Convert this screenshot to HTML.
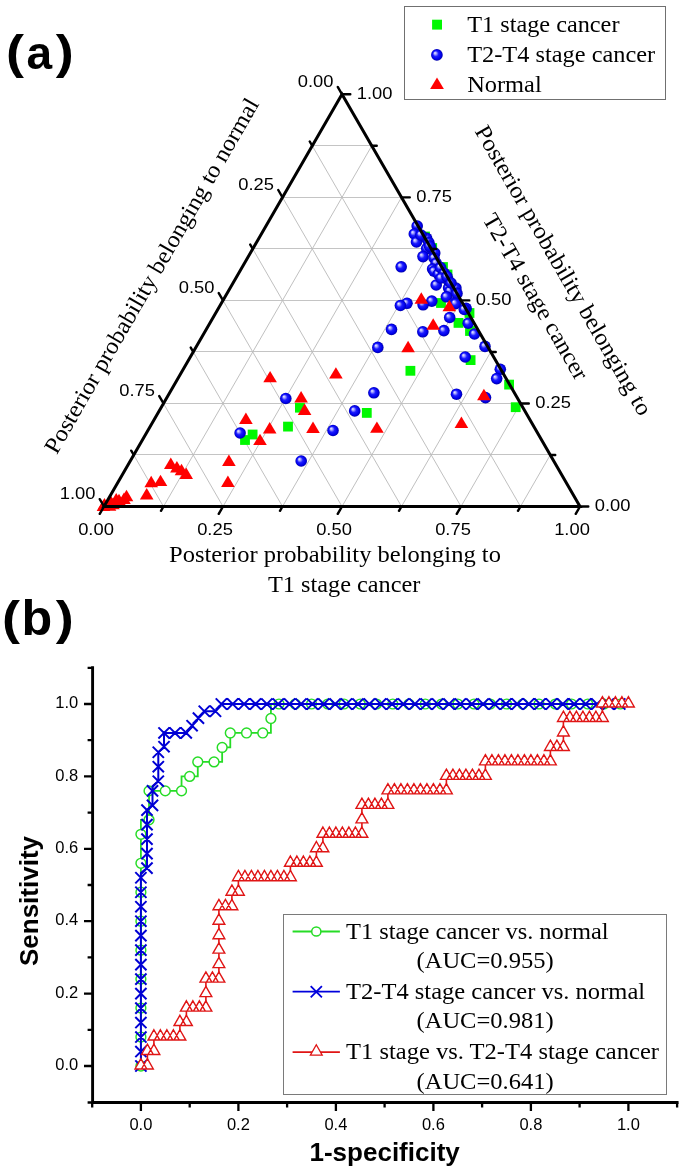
<!DOCTYPE html>
<html><head><meta charset="utf-8"><title>figure</title>
<style>html,body{margin:0;padding:0;background:#fff;} svg{display:block;will-change:transform;}</style></head>
<body><svg width="685" height="1173" viewBox="0 0 685 1173">
<defs><radialGradient id="sph" cx="0.5" cy="0.5" r="0.5" fx="0.32" fy="0.32">
<stop offset="0" stop-color="#f4f4ff"/><stop offset="0.22" stop-color="#a0a0ff"/><stop offset="0.48" stop-color="#1c1cff"/><stop offset="0.8" stop-color="#0000ea"/><stop offset="1" stop-color="#0000a8"/></radialGradient></defs>
<rect width="685" height="1173" fill="#fff"/>
<path d="M133.75 454.50L550.25 454.50 M163.50 403.50L520.50 403.50 M193.25 351.50L490.75 351.50 M223.00 300.50L461.00 300.50 M252.75 248.50L431.25 248.50 M282.50 197.50L401.50 197.50 M312.25 145.50L371.75 145.50" stroke="#c4c4c4" stroke-width="1" fill="none"/>
<path d="M163.50 506.50L371.75 145.82 M163.50 506.50L133.75 454.98 M223.00 506.50L401.50 197.35 M223.00 506.50L163.50 403.45 M282.50 506.50L431.25 248.88 M282.50 506.50L193.25 351.93 M342.00 506.50L461.00 300.40 M342.00 506.50L223.00 300.40 M401.50 506.50L490.75 351.93 M401.50 506.50L252.75 248.88 M461.00 506.50L520.50 403.45 M461.00 506.50L282.50 197.35 M520.50 506.50L550.25 454.98 M520.50 506.50L312.25 145.82" stroke="#bdbdbd" stroke-width="0.95" fill="none"/>
<text x="333.5" y="87.1" font-family="Liberation Sans, sans-serif" font-size="17" text-anchor="end" textLength="35.7" lengthAdjust="spacingAndGlyphs">0.00</text>
<text x="96.0" y="534.7" font-family="Liberation Sans, sans-serif" font-size="17" text-anchor="middle" textLength="35.7" lengthAdjust="spacingAndGlyphs">0.00</text>
<text x="594.8" y="511.1" font-family="Liberation Sans, sans-serif" font-size="17" textLength="35.7" lengthAdjust="spacingAndGlyphs">0.00</text>
<text x="274.0" y="190.2" font-family="Liberation Sans, sans-serif" font-size="17" text-anchor="end" textLength="35.7" lengthAdjust="spacingAndGlyphs">0.25</text>
<text x="215.0" y="534.7" font-family="Liberation Sans, sans-serif" font-size="17" text-anchor="middle" textLength="35.7" lengthAdjust="spacingAndGlyphs">0.25</text>
<text x="535.3" y="408.1" font-family="Liberation Sans, sans-serif" font-size="17" textLength="35.7" lengthAdjust="spacingAndGlyphs">0.25</text>
<text x="214.5" y="293.2" font-family="Liberation Sans, sans-serif" font-size="17" text-anchor="end" textLength="35.7" lengthAdjust="spacingAndGlyphs">0.50</text>
<text x="334.0" y="534.7" font-family="Liberation Sans, sans-serif" font-size="17" text-anchor="middle" textLength="35.7" lengthAdjust="spacingAndGlyphs">0.50</text>
<text x="475.8" y="305.0" font-family="Liberation Sans, sans-serif" font-size="17" textLength="35.7" lengthAdjust="spacingAndGlyphs">0.50</text>
<text x="155.0" y="396.2" font-family="Liberation Sans, sans-serif" font-size="17" text-anchor="end" textLength="35.7" lengthAdjust="spacingAndGlyphs">0.75</text>
<text x="453.0" y="534.7" font-family="Liberation Sans, sans-serif" font-size="17" text-anchor="middle" textLength="35.7" lengthAdjust="spacingAndGlyphs">0.75</text>
<text x="416.3" y="202.0" font-family="Liberation Sans, sans-serif" font-size="17" textLength="35.7" lengthAdjust="spacingAndGlyphs">0.75</text>
<text x="95.5" y="499.3" font-family="Liberation Sans, sans-serif" font-size="17" text-anchor="end" textLength="35.7" lengthAdjust="spacingAndGlyphs">1.00</text>
<text x="572.0" y="534.7" font-family="Liberation Sans, sans-serif" font-size="17" text-anchor="middle" textLength="35.7" lengthAdjust="spacingAndGlyphs">1.00</text>
<text x="356.8" y="98.9" font-family="Liberation Sans, sans-serif" font-size="17" textLength="35.7" lengthAdjust="spacingAndGlyphs">1.00</text>
<text transform="translate(56.8,455.2) rotate(-60)" font-family="Liberation Serif, serif" font-size="23.4" textLength="405.6" lengthAdjust="spacingAndGlyphs">Posterior probability belonging to normal</text>
<text transform="translate(474.3,131.0) rotate(60)" font-family="Liberation Serif, serif" font-size="23.4" textLength="330.5" lengthAdjust="spacingAndGlyphs">Posterior probability belonging to</text>
<text transform="translate(482,219) rotate(60)" font-family="Liberation Serif, serif" font-size="23.4" textLength="188" lengthAdjust="spacingAndGlyphs">T2-T4 stage cancer</text>
<text x="169" y="562" font-family="Liberation Serif, serif" font-size="23.4" textLength="331.9" lengthAdjust="spacingAndGlyphs">Posterior probability belonging to</text>
<text x="268" y="591.6" font-family="Liberation Serif, serif" font-size="23.4" textLength="152.3" lengthAdjust="spacingAndGlyphs">T1 stage cancer</text>
<rect x="420.1" y="231.6" width="9.8" height="9.8" fill="#00f800"/>
<rect x="427.3" y="243.1" width="9.8" height="9.8" fill="#00f800"/>
<rect x="438.1" y="262.1" width="9.8" height="9.8" fill="#00f800"/>
<rect x="442.6" y="269.6" width="9.8" height="9.8" fill="#00f800"/>
<rect x="464.6" y="308.1" width="9.8" height="9.8" fill="#00f800"/>
<rect x="436.1" y="298.1" width="9.8" height="9.8" fill="#00f800"/>
<rect x="295.0" y="402.8" width="9.8" height="9.8" fill="#00f800"/>
<rect x="283.1" y="421.7" width="9.8" height="9.8" fill="#00f800"/>
<rect x="247.7" y="429.6" width="9.8" height="9.8" fill="#00f800"/>
<rect x="240.1" y="435.1" width="9.8" height="9.8" fill="#00f800"/>
<rect x="405.5" y="365.9" width="9.8" height="9.8" fill="#00f800"/>
<rect x="361.9" y="408.0" width="9.8" height="9.8" fill="#00f800"/>
<rect x="453.6" y="318.0" width="9.8" height="9.8" fill="#00f800"/>
<rect x="465.1" y="326.1" width="9.8" height="9.8" fill="#00f800"/>
<rect x="465.7" y="355.2" width="9.8" height="9.8" fill="#00f800"/>
<rect x="504.2" y="379.7" width="9.8" height="9.8" fill="#00f800"/>
<rect x="510.8" y="402.3" width="9.8" height="9.8" fill="#00f800"/>
<circle cx="417.2" cy="226.0" r="5.8" fill="url(#sph)"/>
<circle cx="414.3" cy="234.0" r="5.8" fill="url(#sph)"/>
<circle cx="416.5" cy="242.0" r="5.8" fill="url(#sph)"/>
<circle cx="426.7" cy="238.4" r="5.8" fill="url(#sph)"/>
<circle cx="428.9" cy="242.7" r="5.8" fill="url(#sph)"/>
<circle cx="426.7" cy="248.6" r="5.8" fill="url(#sph)"/>
<circle cx="423.0" cy="256.6" r="5.8" fill="url(#sph)"/>
<circle cx="434.7" cy="253.0" r="5.8" fill="url(#sph)"/>
<circle cx="434.0" cy="258.0" r="5.8" fill="url(#sph)"/>
<circle cx="436.2" cy="263.2" r="5.8" fill="url(#sph)"/>
<circle cx="432.6" cy="269.0" r="5.8" fill="url(#sph)"/>
<circle cx="434.0" cy="271.2" r="5.8" fill="url(#sph)"/>
<circle cx="438.4" cy="274.1" r="5.8" fill="url(#sph)"/>
<circle cx="440.6" cy="267.6" r="5.8" fill="url(#sph)"/>
<circle cx="444.2" cy="273.4" r="5.8" fill="url(#sph)"/>
<circle cx="401.2" cy="266.8" r="5.8" fill="url(#sph)"/>
<circle cx="436.2" cy="285.0" r="5.8" fill="url(#sph)"/>
<circle cx="448.6" cy="288.0" r="5.8" fill="url(#sph)"/>
<circle cx="450.0" cy="291.0" r="5.8" fill="url(#sph)"/>
<circle cx="455.9" cy="288.0" r="5.8" fill="url(#sph)"/>
<circle cx="446.4" cy="296.8" r="5.8" fill="url(#sph)"/>
<circle cx="431.8" cy="301.1" r="5.8" fill="url(#sph)"/>
<circle cx="423.1" cy="304.8" r="5.8" fill="url(#sph)"/>
<circle cx="407.0" cy="303.3" r="5.8" fill="url(#sph)"/>
<circle cx="400.4" cy="305.5" r="5.8" fill="url(#sph)"/>
<circle cx="454.5" cy="302.6" r="5.8" fill="url(#sph)"/>
<circle cx="466.1" cy="308.4" r="5.8" fill="url(#sph)"/>
<circle cx="448.2" cy="280.3" r="5.8" fill="url(#sph)"/>
<circle cx="457.0" cy="293.4" r="5.8" fill="url(#sph)"/>
<circle cx="455.5" cy="303.6" r="5.8" fill="url(#sph)"/>
<circle cx="464.3" cy="309.5" r="5.8" fill="url(#sph)"/>
<circle cx="430.5" cy="247.0" r="5.8" fill="url(#sph)"/>
<circle cx="441.0" cy="278.0" r="5.8" fill="url(#sph)"/>
<circle cx="421.0" cy="235.0" r="5.8" fill="url(#sph)"/>
<circle cx="429.5" cy="246.0" r="5.8" fill="url(#sph)"/>
<circle cx="447.0" cy="276.5" r="5.8" fill="url(#sph)"/>
<circle cx="451.0" cy="283.0" r="5.8" fill="url(#sph)"/>
<circle cx="449.7" cy="317.5" r="5.8" fill="url(#sph)"/>
<circle cx="391.5" cy="329.4" r="5.8" fill="url(#sph)"/>
<circle cx="422.8" cy="331.8" r="5.8" fill="url(#sph)"/>
<circle cx="443.9" cy="330.6" r="5.8" fill="url(#sph)"/>
<circle cx="468.2" cy="323.2" r="5.8" fill="url(#sph)"/>
<circle cx="474.5" cy="334.0" r="5.8" fill="url(#sph)"/>
<circle cx="485.0" cy="346.4" r="5.8" fill="url(#sph)"/>
<circle cx="377.8" cy="347.4" r="5.8" fill="url(#sph)"/>
<circle cx="465.2" cy="357.0" r="5.8" fill="url(#sph)"/>
<circle cx="500.3" cy="369.3" r="5.8" fill="url(#sph)"/>
<circle cx="496.7" cy="378.6" r="5.8" fill="url(#sph)"/>
<circle cx="373.9" cy="392.8" r="5.8" fill="url(#sph)"/>
<circle cx="456.5" cy="394.2" r="5.8" fill="url(#sph)"/>
<circle cx="485.5" cy="397.6" r="5.8" fill="url(#sph)"/>
<circle cx="354.7" cy="410.9" r="5.8" fill="url(#sph)"/>
<circle cx="333.0" cy="430.5" r="5.8" fill="url(#sph)"/>
<circle cx="285.8" cy="398.5" r="5.8" fill="url(#sph)"/>
<circle cx="240.1" cy="433.0" r="5.8" fill="url(#sph)"/>
<circle cx="301.2" cy="461.0" r="5.8" fill="url(#sph)"/>
<path d="M270.1 370.9L276.9 382.3L263.3 382.3Z" fill="#ff0000"/>
<path d="M301.1 391.1L307.9 402.5L294.3 402.5Z" fill="#ff0000"/>
<path d="M304.6 403.6L311.4 415.0L297.8 415.0Z" fill="#ff0000"/>
<path d="M245.9 412.6L252.7 424.0L239.1 424.0Z" fill="#ff0000"/>
<path d="M269.7 422.1L276.5 433.5L262.9 433.5Z" fill="#ff0000"/>
<path d="M313.0 421.5L319.8 432.9L306.2 432.9Z" fill="#ff0000"/>
<path d="M260.0 433.7L266.8 445.1L253.2 445.1Z" fill="#ff0000"/>
<path d="M228.9 454.5L235.7 465.9L222.1 465.9Z" fill="#ff0000"/>
<path d="M227.9 475.5L234.7 486.9L221.1 486.9Z" fill="#ff0000"/>
<path d="M408.1 340.8L414.9 352.2L401.3 352.2Z" fill="#ff0000"/>
<path d="M335.9 367.2L342.7 378.6L329.1 378.6Z" fill="#ff0000"/>
<path d="M376.9 421.4L383.7 432.8L370.1 432.8Z" fill="#ff0000"/>
<path d="M433.2 318.3L440.0 329.7L426.4 329.7Z" fill="#ff0000"/>
<path d="M483.9 388.8L490.7 400.2L477.1 400.2Z" fill="#ff0000"/>
<path d="M461.4 416.6L468.2 428.0L454.6 428.0Z" fill="#ff0000"/>
<path d="M421.3 292.3L428.1 303.7L414.5 303.7Z" fill="#ff0000"/>
<path d="M449.3 299.8L456.1 311.2L442.5 311.2Z" fill="#ff0000"/>
<path d="M170.8 457.6L177.6 469.0L164.0 469.0Z" fill="#ff0000"/>
<path d="M176.9 461.0L183.7 472.4L170.1 472.4Z" fill="#ff0000"/>
<path d="M181.5 463.8L188.3 475.2L174.7 475.2Z" fill="#ff0000"/>
<path d="M186.2 467.5L193.0 478.9L179.4 478.9Z" fill="#ff0000"/>
<path d="M151.2 475.8L158.0 487.2L144.4 487.2Z" fill="#ff0000"/>
<path d="M160.5 474.7L167.3 486.1L153.7 486.1Z" fill="#ff0000"/>
<path d="M146.7 488.0L153.5 499.4L139.9 499.4Z" fill="#ff0000"/>
<path d="M126.5 489.8L133.3 501.2L119.7 501.2Z" fill="#ff0000"/>
<path d="M124.0 492.6L130.8 504.0L117.2 504.0Z" fill="#ff0000"/>
<path d="M116.2 493.1L123.0 504.5L109.4 504.5Z" fill="#ff0000"/>
<path d="M119.0 493.8L125.8 505.2L112.2 505.2Z" fill="#ff0000"/>
<path d="M111.0 495.8L117.8 507.2L104.2 507.2Z" fill="#ff0000"/>
<path d="M104.5 498.0L111.3 509.4L97.7 509.4Z" fill="#ff0000"/>
<path d="M109.5 499.3L116.3 510.7L102.7 510.7Z" fill="#ff0000"/>
<path d="M113.0 497.8L119.8 509.2L106.2 509.2Z" fill="#ff0000"/>
<path d="M103.5 499.5L110.3 510.9L96.7 510.9Z" fill="#ff0000"/>
<path d="M104.0 506.5L580.0 506.5L342.0 94.3Z" stroke="#000" stroke-width="3.0" fill="none" stroke-linejoin="miter"/>
<path d="M342.00 94.30L337.75 86.94 M312.25 145.82L309.75 141.49 M282.50 197.35L278.25 189.99 M252.75 248.88L250.25 244.54 M223.00 300.40L218.75 293.04 M193.25 351.93L190.75 347.60 M163.50 403.45L159.25 396.09 M133.75 454.98L131.25 450.65 M104.00 506.50L99.75 499.14 M104.00 506.50L99.75 513.86 M163.50 506.50L161.00 510.83 M223.00 506.50L218.75 513.86 M282.50 506.50L280.00 510.83 M342.00 506.50L337.75 513.86 M401.50 506.50L399.00 510.83 M461.00 506.50L456.75 513.86 M520.50 506.50L518.00 510.83 M580.00 506.50L575.75 513.86 M580.00 506.50L588.30 506.50 M550.25 454.98L555.25 454.98 M520.50 403.45L528.80 403.45 M490.75 351.93L495.75 351.93 M461.00 300.40L469.30 300.40 M431.25 248.88L436.25 248.88 M401.50 197.35L409.80 197.35 M371.75 145.82L376.75 145.82 M342.00 94.30L350.30 94.30" stroke="#000" stroke-width="2.4" stroke-linecap="round" fill="none"/>
<rect x="404.5" y="6.5" width="261" height="93" fill="none" stroke="#707070" stroke-width="1"/>
<rect x="432.1" y="19.7" width="9.9" height="9.9" fill="#00f800"/>
<circle cx="436.9" cy="54.9" r="5.85" fill="url(#sph)"/>
<path d="M437.0 77.6L443.9 89.0L430.1 89.0Z" fill="#ff0000"/>
<text x="467.2" y="31.8" font-family="Liberation Serif, serif" font-size="23.4" textLength="152.3" lengthAdjust="spacingAndGlyphs">T1 stage cancer</text>
<text x="467.2" y="61.8" font-family="Liberation Serif, serif" font-size="23.4" textLength="188" lengthAdjust="spacingAndGlyphs">T2-T4 stage cancer</text>
<text x="467.2" y="91.9" font-family="Liberation Serif, serif" font-size="23.4" textLength="74.5" lengthAdjust="spacingAndGlyphs">Normal</text>
<text x="6.05" y="67.9" font-family="Liberation Sans, sans-serif" font-weight="bold" font-size="47" textLength="18" lengthAdjust="spacingAndGlyphs">(</text>
<text x="26.5" y="69.4" font-family="Liberation Sans, sans-serif" font-weight="bold" font-size="47" textLength="25.6" lengthAdjust="spacingAndGlyphs">a</text>
<text x="55.75" y="67.9" font-family="Liberation Sans, sans-serif" font-weight="bold" font-size="47" textLength="18" lengthAdjust="spacingAndGlyphs">)</text>
<text x="2.05" y="634" font-family="Liberation Sans, sans-serif" font-weight="bold" font-size="47" textLength="18" lengthAdjust="spacingAndGlyphs">(</text>
<text x="21.6" y="635.3" font-family="Liberation Sans, sans-serif" font-weight="bold" font-size="50.5" textLength="30.7" lengthAdjust="spacingAndGlyphs">b</text>
<text x="55.75" y="634" font-family="Liberation Sans, sans-serif" font-weight="bold" font-size="47" textLength="18" lengthAdjust="spacingAndGlyphs">)</text>
<path d="M92.6 667.8L92.6 1102.5L677.1 1102.5" stroke="#000" stroke-width="2.9" fill="none" stroke-linecap="square"/>
<path d="M92.6 1102.5h-5 M92.2 1102.5v5 M92.6 1066.0h-8.6 M140.9 1102.5v8.6 M92.6 1029.8h-5 M189.7 1102.5v5 M92.6 993.6h-8.6 M238.4 1102.5v8.6 M92.6 957.4h-5 M287.1 1102.5v5 M92.6 921.2h-8.6 M335.9 1102.5v8.6 M92.6 885.0h-5 M384.6 1102.5v5 M92.6 848.8h-8.6 M433.4 1102.5v8.6 M92.6 812.6h-5 M482.1 1102.5v5 M92.6 776.4h-8.6 M530.9 1102.5v8.6 M92.6 740.2h-5 M579.6 1102.5v5 M92.6 704.0h-8.6 M628.4 1102.5v8.6 M92.6 667.8h-5 M677.1 1102.5v5" stroke="#000" stroke-width="2.3" fill="none"/>
<text x="78.2" y="1070.2" font-family="Liberation Sans, sans-serif" font-size="16.5" text-anchor="end">0.0</text>
<text x="140.9" y="1129.8" font-family="Liberation Sans, sans-serif" font-size="16.5" text-anchor="middle">0.0</text>
<text x="78.2" y="997.8" font-family="Liberation Sans, sans-serif" font-size="16.5" text-anchor="end">0.2</text>
<text x="238.4" y="1129.8" font-family="Liberation Sans, sans-serif" font-size="16.5" text-anchor="middle">0.2</text>
<text x="78.2" y="925.4" font-family="Liberation Sans, sans-serif" font-size="16.5" text-anchor="end">0.4</text>
<text x="335.9" y="1129.8" font-family="Liberation Sans, sans-serif" font-size="16.5" text-anchor="middle">0.4</text>
<text x="78.2" y="853.0" font-family="Liberation Sans, sans-serif" font-size="16.5" text-anchor="end">0.6</text>
<text x="433.4" y="1129.8" font-family="Liberation Sans, sans-serif" font-size="16.5" text-anchor="middle">0.6</text>
<text x="78.2" y="780.6" font-family="Liberation Sans, sans-serif" font-size="16.5" text-anchor="end">0.8</text>
<text x="530.9" y="1129.8" font-family="Liberation Sans, sans-serif" font-size="16.5" text-anchor="middle">0.8</text>
<text x="78.2" y="708.2" font-family="Liberation Sans, sans-serif" font-size="16.5" text-anchor="end">1.0</text>
<text x="628.4" y="1129.8" font-family="Liberation Sans, sans-serif" font-size="16.5" text-anchor="middle">1.0</text>
<text transform="translate(38.4,901) rotate(-90)" font-family="Liberation Sans, sans-serif" font-weight="bold" font-size="26" text-anchor="middle">Sensitivity</text>
<text x="309.5" y="1160.7" font-family="Liberation Sans, sans-serif" font-weight="bold" font-size="26">1-specificity</text>
<path d="M140.90 1066.00 L140.90 1051.52 L140.90 1037.04 L140.90 1022.56 L140.90 1008.08 L140.90 993.60 L140.90 979.12 L140.90 964.64 L140.90 950.16 L140.90 935.68 L140.90 921.20 L140.90 906.72 L140.90 892.24 L140.90 877.76 L140.90 863.28 L140.90 848.80 L140.90 834.32 L140.90 819.84 L149.03 819.84 L149.03 805.36 L149.03 790.88 L157.15 790.88 L165.28 790.88 L173.40 790.88 L181.53 790.88 L181.53 776.40 L189.65 776.40 L197.78 776.40 L197.78 761.92 L205.90 761.92 L214.03 761.92 L222.15 761.92 L222.15 747.44 L230.28 747.44 L230.28 732.96 L238.40 732.96 L246.53 732.96 L254.65 732.96 L262.77 732.96 L270.90 732.96 L270.90 718.48 L270.90 704.00 L279.02 704.00 L287.15 704.00 L295.27 704.00 L303.40 704.00 L311.52 704.00 L319.65 704.00 L327.77 704.00 L335.90 704.00 L344.02 704.00 L352.15 704.00 L360.27 704.00 L368.40 704.00 L376.52 704.00 L384.65 704.00 L392.78 704.00 L400.90 704.00 L409.02 704.00 L417.15 704.00 L425.27 704.00 L433.40 704.00 L441.52 704.00 L449.65 704.00 L457.77 704.00 L465.90 704.00 L474.02 704.00 L482.15 704.00 L490.27 704.00 L498.40 704.00 L506.52 704.00 L514.65 704.00 L522.77 704.00 L530.90 704.00 L539.02 704.00 L547.15 704.00 L555.27 704.00 L563.40 704.00 L571.52 704.00 L579.65 704.00 L587.77 704.00 L595.90 704.00 L604.02 704.00 L612.15 704.00 L620.27 704.00 L628.40 704.00" stroke="#26dc26" stroke-width="1.8" fill="none"/>
<g fill="#fff"><circle cx="140.90" cy="1066.00" r="4.9"/><circle cx="140.90" cy="1037.04" r="4.9"/><circle cx="140.90" cy="1008.08" r="4.9"/><circle cx="140.90" cy="979.12" r="4.9"/><circle cx="140.90" cy="950.16" r="4.9"/><circle cx="140.90" cy="921.20" r="4.9"/><circle cx="140.90" cy="892.24" r="4.9"/><circle cx="140.90" cy="863.28" r="4.9"/><circle cx="140.90" cy="834.32" r="4.9"/><circle cx="149.03" cy="819.84" r="4.9"/><circle cx="149.03" cy="790.88" r="4.9"/><circle cx="165.28" cy="790.88" r="4.9"/><circle cx="181.53" cy="790.88" r="4.9"/><circle cx="189.65" cy="776.40" r="4.9"/><circle cx="197.78" cy="761.92" r="4.9"/><circle cx="214.03" cy="761.92" r="4.9"/><circle cx="222.15" cy="747.44" r="4.9"/><circle cx="230.28" cy="732.96" r="4.9"/><circle cx="246.53" cy="732.96" r="4.9"/><circle cx="262.77" cy="732.96" r="4.9"/><circle cx="270.90" cy="718.48" r="4.9"/><circle cx="279.02" cy="704.00" r="4.9"/><circle cx="295.27" cy="704.00" r="4.9"/><circle cx="311.52" cy="704.00" r="4.9"/><circle cx="327.77" cy="704.00" r="4.9"/><circle cx="344.02" cy="704.00" r="4.9"/><circle cx="360.27" cy="704.00" r="4.9"/><circle cx="376.52" cy="704.00" r="4.9"/><circle cx="392.78" cy="704.00" r="4.9"/><circle cx="409.02" cy="704.00" r="4.9"/><circle cx="425.27" cy="704.00" r="4.9"/><circle cx="441.52" cy="704.00" r="4.9"/><circle cx="457.77" cy="704.00" r="4.9"/><circle cx="474.02" cy="704.00" r="4.9"/><circle cx="490.27" cy="704.00" r="4.9"/><circle cx="506.52" cy="704.00" r="4.9"/><circle cx="522.77" cy="704.00" r="4.9"/><circle cx="539.02" cy="704.00" r="4.9"/><circle cx="555.27" cy="704.00" r="4.9"/><circle cx="571.52" cy="704.00" r="4.9"/><circle cx="587.77" cy="704.00" r="4.9"/><circle cx="604.02" cy="704.00" r="4.9"/><circle cx="620.27" cy="704.00" r="4.9"/></g>
<g fill="none" stroke="#26dc26" stroke-width="1.45"><circle cx="140.90" cy="1066.00" r="4.9"/><circle cx="140.90" cy="1037.04" r="4.9"/><circle cx="140.90" cy="1008.08" r="4.9"/><circle cx="140.90" cy="979.12" r="4.9"/><circle cx="140.90" cy="950.16" r="4.9"/><circle cx="140.90" cy="921.20" r="4.9"/><circle cx="140.90" cy="892.24" r="4.9"/><circle cx="140.90" cy="863.28" r="4.9"/><circle cx="140.90" cy="834.32" r="4.9"/><circle cx="149.03" cy="819.84" r="4.9"/><circle cx="149.03" cy="790.88" r="4.9"/><circle cx="165.28" cy="790.88" r="4.9"/><circle cx="181.53" cy="790.88" r="4.9"/><circle cx="189.65" cy="776.40" r="4.9"/><circle cx="197.78" cy="761.92" r="4.9"/><circle cx="214.03" cy="761.92" r="4.9"/><circle cx="222.15" cy="747.44" r="4.9"/><circle cx="230.28" cy="732.96" r="4.9"/><circle cx="246.53" cy="732.96" r="4.9"/><circle cx="262.77" cy="732.96" r="4.9"/><circle cx="270.90" cy="718.48" r="4.9"/><circle cx="279.02" cy="704.00" r="4.9"/><circle cx="295.27" cy="704.00" r="4.9"/><circle cx="311.52" cy="704.00" r="4.9"/><circle cx="327.77" cy="704.00" r="4.9"/><circle cx="344.02" cy="704.00" r="4.9"/><circle cx="360.27" cy="704.00" r="4.9"/><circle cx="376.52" cy="704.00" r="4.9"/><circle cx="392.78" cy="704.00" r="4.9"/><circle cx="409.02" cy="704.00" r="4.9"/><circle cx="425.27" cy="704.00" r="4.9"/><circle cx="441.52" cy="704.00" r="4.9"/><circle cx="457.77" cy="704.00" r="4.9"/><circle cx="474.02" cy="704.00" r="4.9"/><circle cx="490.27" cy="704.00" r="4.9"/><circle cx="506.52" cy="704.00" r="4.9"/><circle cx="522.77" cy="704.00" r="4.9"/><circle cx="539.02" cy="704.00" r="4.9"/><circle cx="555.27" cy="704.00" r="4.9"/><circle cx="571.52" cy="704.00" r="4.9"/><circle cx="587.77" cy="704.00" r="4.9"/><circle cx="604.02" cy="704.00" r="4.9"/><circle cx="620.27" cy="704.00" r="4.9"/></g>
<path d="M140.90 1066.00 L140.90 873.05 L146.99 867.99 L146.99 810.17 L152.50 805.36 L152.50 786.17 L158.30 781.11 L158.30 752.15 L164.01 747.44 L164.01 732.96 L186.24 732.96 L192.09 725.72 L198.43 718.12 L204.28 711.24 L215.49 711.24 L221.34 704.00 L628.40 704.00" stroke="#0000d4" stroke-width="2.0" fill="none"/>
<path d="M135.30 1060.40L146.50 1071.60M146.50 1060.40L135.30 1071.60 M135.30 1045.92L146.50 1057.12M146.50 1045.92L135.30 1057.12 M135.30 1031.44L146.50 1042.64M146.50 1031.44L135.30 1042.64 M135.30 1016.96L146.50 1028.16M146.50 1016.96L135.30 1028.16 M135.30 1002.48L146.50 1013.68M146.50 1002.48L135.30 1013.68 M135.30 988.00L146.50 999.20M146.50 988.00L135.30 999.20 M135.30 973.52L146.50 984.72M146.50 973.52L135.30 984.72 M135.30 959.04L146.50 970.24M146.50 959.04L135.30 970.24 M135.30 944.56L146.50 955.76M146.50 944.56L135.30 955.76 M135.30 930.08L146.50 941.28M146.50 930.08L135.30 941.28 M135.30 915.60L146.50 926.80M146.50 915.60L135.30 926.80 M135.30 901.12L146.50 912.32M146.50 901.12L135.30 912.32 M135.30 886.64L146.50 897.84M146.50 886.64L135.30 897.84 M135.30 872.16L146.50 883.36M146.50 872.16L135.30 883.36 M141.39 862.49L152.59 873.69M152.59 862.49L141.39 873.69 M141.39 848.01L152.59 859.21M152.59 848.01L141.39 859.21 M141.39 833.53L152.59 844.73M152.59 833.53L141.39 844.73 M141.39 819.05L152.59 830.25M152.59 819.05L141.39 830.25 M141.39 804.57L152.59 815.77M152.59 804.57L141.39 815.77 M146.90 799.76L158.10 810.96M158.10 799.76L146.90 810.96 M146.90 785.28L158.10 796.48M158.10 785.28L146.90 796.48 M152.70 775.61L163.90 786.81M163.90 775.61L152.70 786.81 M152.70 761.13L163.90 772.33M163.90 761.13L152.70 772.33 M152.70 746.65L163.90 757.85M163.90 746.65L152.70 757.85 M158.41 741.12L169.61 752.32M169.61 741.12L158.41 752.32 M158.41 727.36L169.61 738.56M169.61 727.36L158.41 738.56 M169.43 727.36L180.62 738.56M180.62 727.36L169.43 738.56 M180.64 727.36L191.84 738.56M191.84 727.36L180.64 738.56 M186.49 720.12L197.69 731.32M197.69 720.12L186.49 731.32 M192.83 712.52L204.03 723.72M204.03 712.52L192.83 723.72 M198.68 705.64L209.88 716.84M209.88 705.64L198.68 716.84 M209.89 705.64L221.09 716.84M221.09 705.64L209.89 716.84 M215.74 698.40L226.94 709.60M226.94 698.40L215.74 709.60 M227.12 698.40L238.32 709.60M238.32 698.40L227.12 709.60 M238.50 698.40L249.70 709.60M249.70 698.40L238.50 709.60 M249.89 698.40L261.09 709.60M261.09 698.40L249.89 709.60 M261.27 698.40L272.47 709.60M272.47 698.40L261.27 709.60 M272.65 698.40L283.85 709.60M283.85 698.40L272.65 709.60 M284.04 698.40L295.24 709.60M295.24 698.40L284.04 709.60 M295.42 698.40L306.62 709.60M306.62 698.40L295.42 709.60 M306.80 698.40L318.00 709.60M318.00 698.40L306.80 709.60 M318.19 698.40L329.39 709.60M329.39 698.40L318.19 709.60 M329.57 698.40L340.77 709.60M340.77 698.40L329.57 709.60 M340.95 698.40L352.15 709.60M352.15 698.40L340.95 709.60 M352.34 698.40L363.54 709.60M363.54 698.40L352.34 709.60 M363.72 698.40L374.92 709.60M374.92 698.40L363.72 709.60 M375.10 698.40L386.30 709.60M386.30 698.40L375.10 709.60 M386.48 698.40L397.68 709.60M397.68 698.40L386.48 709.60 M397.87 698.40L409.07 709.60M409.07 698.40L397.87 709.60 M409.25 698.40L420.45 709.60M420.45 698.40L409.25 709.60 M420.63 698.40L431.83 709.60M431.83 698.40L420.63 709.60 M432.02 698.40L443.22 709.60M443.22 698.40L432.02 709.60 M443.40 698.40L454.60 709.60M454.60 698.40L443.40 709.60 M454.78 698.40L465.98 709.60M465.98 698.40L454.78 709.60 M466.17 698.40L477.37 709.60M477.37 698.40L466.17 709.60 M477.55 698.40L488.75 709.60M488.75 698.40L477.55 709.60 M488.93 698.40L500.13 709.60M500.13 698.40L488.93 709.60 M500.32 698.40L511.52 709.60M511.52 698.40L500.32 709.60 M511.70 698.40L522.90 709.60M522.90 698.40L511.70 709.60 M523.08 698.40L534.28 709.60M534.28 698.40L523.08 709.60 M534.46 698.40L545.66 709.60M545.66 698.40L534.46 709.60 M545.85 698.40L557.05 709.60M557.05 698.40L545.85 709.60 M557.23 698.40L568.43 709.60M568.43 698.40L557.23 709.60 M568.61 698.40L579.81 709.60M579.81 698.40L568.61 709.60 M580.00 698.40L591.20 709.60M591.20 698.40L580.00 709.60 M591.38 698.40L602.58 709.60M602.58 698.40L591.38 709.60 M602.76 698.40L613.96 709.60M613.96 698.40L602.76 709.60 M614.15 698.40L625.35 709.60M625.35 698.40L614.15 709.60" stroke="#0000d4" stroke-width="2.0" fill="none"/>
<path d="M140.90 1066.00 L147.40 1066.00 L147.40 1051.52 L153.90 1051.52 L153.90 1037.04 L179.90 1037.04 L179.90 1022.56 L186.40 1022.56 L186.40 1008.08 L205.90 1008.08 L205.90 979.12 L218.90 979.12 L218.90 906.72 L231.90 906.72 L231.90 892.24 L238.40 892.24 L238.40 877.76 L290.40 877.76 L290.40 863.28 L316.40 863.28 L316.40 848.80 L322.90 848.80 L322.90 834.32 L361.90 834.32 L361.90 805.36 L387.90 805.36 L387.90 790.88 L446.40 790.88 L446.40 776.40 L485.40 776.40 L485.40 761.92 L550.40 761.92 L550.40 747.44 L563.40 747.44 L563.40 718.48 L602.40 718.48 L602.40 704.00 L628.40 704.00" stroke="#e01515" stroke-width="1.6" fill="none"/>
<path d="M140.90 1058.70L146.80 1069.00L135.00 1069.00Z M147.40 1058.70L153.30 1069.00L141.50 1069.00Z M147.40 1044.22L153.30 1054.52L141.50 1054.52Z M153.90 1044.22L159.80 1054.52L148.00 1054.52Z M153.90 1029.74L159.80 1040.04L148.00 1040.04Z M160.40 1029.74L166.30 1040.04L154.50 1040.04Z M166.90 1029.74L172.80 1040.04L161.00 1040.04Z M173.40 1029.74L179.30 1040.04L167.50 1040.04Z M179.90 1029.74L185.80 1040.04L174.00 1040.04Z M179.90 1015.26L185.80 1025.56L174.00 1025.56Z M186.40 1015.26L192.30 1025.56L180.50 1025.56Z M186.40 1000.78L192.30 1011.08L180.50 1011.08Z M192.90 1000.78L198.80 1011.08L187.00 1011.08Z M199.40 1000.78L205.30 1011.08L193.50 1011.08Z M205.90 1000.78L211.80 1011.08L200.00 1011.08Z M205.90 986.30L211.80 996.60L200.00 996.60Z M205.90 971.82L211.80 982.12L200.00 982.12Z M212.40 971.82L218.30 982.12L206.50 982.12Z M218.90 971.82L224.80 982.12L213.00 982.12Z M218.90 957.34L224.80 967.64L213.00 967.64Z M218.90 942.86L224.80 953.16L213.00 953.16Z M218.90 928.38L224.80 938.68L213.00 938.68Z M218.90 913.90L224.80 924.20L213.00 924.20Z M218.90 899.42L224.80 909.72L213.00 909.72Z M225.40 899.42L231.30 909.72L219.50 909.72Z M231.90 899.42L237.80 909.72L226.00 909.72Z M231.90 884.94L237.80 895.24L226.00 895.24Z M238.40 884.94L244.30 895.24L232.50 895.24Z M238.40 870.46L244.30 880.76L232.50 880.76Z M244.90 870.46L250.80 880.76L239.00 880.76Z M251.40 870.46L257.30 880.76L245.50 880.76Z M257.90 870.46L263.80 880.76L252.00 880.76Z M264.40 870.46L270.30 880.76L258.50 880.76Z M270.90 870.46L276.80 880.76L265.00 880.76Z M277.40 870.46L283.30 880.76L271.50 880.76Z M283.90 870.46L289.80 880.76L278.00 880.76Z M290.40 870.46L296.30 880.76L284.50 880.76Z M290.40 855.98L296.30 866.28L284.50 866.28Z M296.90 855.98L302.80 866.28L291.00 866.28Z M303.40 855.98L309.30 866.28L297.50 866.28Z M309.90 855.98L315.80 866.28L304.00 866.28Z M316.40 855.98L322.30 866.28L310.50 866.28Z M316.40 841.50L322.30 851.80L310.50 851.80Z M322.90 841.50L328.80 851.80L317.00 851.80Z M322.90 827.02L328.80 837.32L317.00 837.32Z M329.40 827.02L335.30 837.32L323.50 837.32Z M335.90 827.02L341.80 837.32L330.00 837.32Z M342.40 827.02L348.30 837.32L336.50 837.32Z M348.90 827.02L354.80 837.32L343.00 837.32Z M355.40 827.02L361.30 837.32L349.50 837.32Z M361.90 827.02L367.80 837.32L356.00 837.32Z M361.90 812.54L367.80 822.84L356.00 822.84Z M361.90 798.06L367.80 808.36L356.00 808.36Z M368.40 798.06L374.30 808.36L362.50 808.36Z M374.90 798.06L380.80 808.36L369.00 808.36Z M381.40 798.06L387.30 808.36L375.50 808.36Z M387.90 798.06L393.80 808.36L382.00 808.36Z M387.90 783.58L393.80 793.88L382.00 793.88Z M394.40 783.58L400.30 793.88L388.50 793.88Z M400.90 783.58L406.80 793.88L395.00 793.88Z M407.40 783.58L413.30 793.88L401.50 793.88Z M413.90 783.58L419.80 793.88L408.00 793.88Z M420.40 783.58L426.30 793.88L414.50 793.88Z M426.90 783.58L432.80 793.88L421.00 793.88Z M433.40 783.58L439.30 793.88L427.50 793.88Z M439.90 783.58L445.80 793.88L434.00 793.88Z M446.40 783.58L452.30 793.88L440.50 793.88Z M446.40 769.10L452.30 779.40L440.50 779.40Z M452.90 769.10L458.80 779.40L447.00 779.40Z M459.40 769.10L465.30 779.40L453.50 779.40Z M465.90 769.10L471.80 779.40L460.00 779.40Z M472.40 769.10L478.30 779.40L466.50 779.40Z M478.90 769.10L484.80 779.40L473.00 779.40Z M485.40 769.10L491.30 779.40L479.50 779.40Z M485.40 754.62L491.30 764.92L479.50 764.92Z M491.90 754.62L497.80 764.92L486.00 764.92Z M498.40 754.62L504.30 764.92L492.50 764.92Z M504.90 754.62L510.80 764.92L499.00 764.92Z M511.40 754.62L517.30 764.92L505.50 764.92Z M517.90 754.62L523.80 764.92L512.00 764.92Z M524.40 754.62L530.30 764.92L518.50 764.92Z M530.90 754.62L536.80 764.92L525.00 764.92Z M537.40 754.62L543.30 764.92L531.50 764.92Z M543.90 754.62L549.80 764.92L538.00 764.92Z M550.40 754.62L556.30 764.92L544.50 764.92Z M550.40 740.14L556.30 750.44L544.50 750.44Z M556.90 740.14L562.80 750.44L551.00 750.44Z M563.40 740.14L569.30 750.44L557.50 750.44Z M563.40 725.66L569.30 735.96L557.50 735.96Z M563.40 711.18L569.30 721.48L557.50 721.48Z M569.90 711.18L575.80 721.48L564.00 721.48Z M576.40 711.18L582.30 721.48L570.50 721.48Z M582.90 711.18L588.80 721.48L577.00 721.48Z M589.40 711.18L595.30 721.48L583.50 721.48Z M595.90 711.18L601.80 721.48L590.00 721.48Z M602.40 711.18L608.30 721.48L596.50 721.48Z M602.40 696.70L608.30 707.00L596.50 707.00Z M608.90 696.70L614.80 707.00L603.00 707.00Z M615.40 696.70L621.30 707.00L609.50 707.00Z M621.90 696.70L627.80 707.00L616.00 707.00Z M628.40 696.70L634.30 707.00L622.50 707.00Z" fill="#fff" stroke="none"/>
<path d="M140.90 1058.70L146.80 1069.00L135.00 1069.00Z M147.40 1058.70L153.30 1069.00L141.50 1069.00Z M147.40 1044.22L153.30 1054.52L141.50 1054.52Z M153.90 1044.22L159.80 1054.52L148.00 1054.52Z M153.90 1029.74L159.80 1040.04L148.00 1040.04Z M160.40 1029.74L166.30 1040.04L154.50 1040.04Z M166.90 1029.74L172.80 1040.04L161.00 1040.04Z M173.40 1029.74L179.30 1040.04L167.50 1040.04Z M179.90 1029.74L185.80 1040.04L174.00 1040.04Z M179.90 1015.26L185.80 1025.56L174.00 1025.56Z M186.40 1015.26L192.30 1025.56L180.50 1025.56Z M186.40 1000.78L192.30 1011.08L180.50 1011.08Z M192.90 1000.78L198.80 1011.08L187.00 1011.08Z M199.40 1000.78L205.30 1011.08L193.50 1011.08Z M205.90 1000.78L211.80 1011.08L200.00 1011.08Z M205.90 986.30L211.80 996.60L200.00 996.60Z M205.90 971.82L211.80 982.12L200.00 982.12Z M212.40 971.82L218.30 982.12L206.50 982.12Z M218.90 971.82L224.80 982.12L213.00 982.12Z M218.90 957.34L224.80 967.64L213.00 967.64Z M218.90 942.86L224.80 953.16L213.00 953.16Z M218.90 928.38L224.80 938.68L213.00 938.68Z M218.90 913.90L224.80 924.20L213.00 924.20Z M218.90 899.42L224.80 909.72L213.00 909.72Z M225.40 899.42L231.30 909.72L219.50 909.72Z M231.90 899.42L237.80 909.72L226.00 909.72Z M231.90 884.94L237.80 895.24L226.00 895.24Z M238.40 884.94L244.30 895.24L232.50 895.24Z M238.40 870.46L244.30 880.76L232.50 880.76Z M244.90 870.46L250.80 880.76L239.00 880.76Z M251.40 870.46L257.30 880.76L245.50 880.76Z M257.90 870.46L263.80 880.76L252.00 880.76Z M264.40 870.46L270.30 880.76L258.50 880.76Z M270.90 870.46L276.80 880.76L265.00 880.76Z M277.40 870.46L283.30 880.76L271.50 880.76Z M283.90 870.46L289.80 880.76L278.00 880.76Z M290.40 870.46L296.30 880.76L284.50 880.76Z M290.40 855.98L296.30 866.28L284.50 866.28Z M296.90 855.98L302.80 866.28L291.00 866.28Z M303.40 855.98L309.30 866.28L297.50 866.28Z M309.90 855.98L315.80 866.28L304.00 866.28Z M316.40 855.98L322.30 866.28L310.50 866.28Z M316.40 841.50L322.30 851.80L310.50 851.80Z M322.90 841.50L328.80 851.80L317.00 851.80Z M322.90 827.02L328.80 837.32L317.00 837.32Z M329.40 827.02L335.30 837.32L323.50 837.32Z M335.90 827.02L341.80 837.32L330.00 837.32Z M342.40 827.02L348.30 837.32L336.50 837.32Z M348.90 827.02L354.80 837.32L343.00 837.32Z M355.40 827.02L361.30 837.32L349.50 837.32Z M361.90 827.02L367.80 837.32L356.00 837.32Z M361.90 812.54L367.80 822.84L356.00 822.84Z M361.90 798.06L367.80 808.36L356.00 808.36Z M368.40 798.06L374.30 808.36L362.50 808.36Z M374.90 798.06L380.80 808.36L369.00 808.36Z M381.40 798.06L387.30 808.36L375.50 808.36Z M387.90 798.06L393.80 808.36L382.00 808.36Z M387.90 783.58L393.80 793.88L382.00 793.88Z M394.40 783.58L400.30 793.88L388.50 793.88Z M400.90 783.58L406.80 793.88L395.00 793.88Z M407.40 783.58L413.30 793.88L401.50 793.88Z M413.90 783.58L419.80 793.88L408.00 793.88Z M420.40 783.58L426.30 793.88L414.50 793.88Z M426.90 783.58L432.80 793.88L421.00 793.88Z M433.40 783.58L439.30 793.88L427.50 793.88Z M439.90 783.58L445.80 793.88L434.00 793.88Z M446.40 783.58L452.30 793.88L440.50 793.88Z M446.40 769.10L452.30 779.40L440.50 779.40Z M452.90 769.10L458.80 779.40L447.00 779.40Z M459.40 769.10L465.30 779.40L453.50 779.40Z M465.90 769.10L471.80 779.40L460.00 779.40Z M472.40 769.10L478.30 779.40L466.50 779.40Z M478.90 769.10L484.80 779.40L473.00 779.40Z M485.40 769.10L491.30 779.40L479.50 779.40Z M485.40 754.62L491.30 764.92L479.50 764.92Z M491.90 754.62L497.80 764.92L486.00 764.92Z M498.40 754.62L504.30 764.92L492.50 764.92Z M504.90 754.62L510.80 764.92L499.00 764.92Z M511.40 754.62L517.30 764.92L505.50 764.92Z M517.90 754.62L523.80 764.92L512.00 764.92Z M524.40 754.62L530.30 764.92L518.50 764.92Z M530.90 754.62L536.80 764.92L525.00 764.92Z M537.40 754.62L543.30 764.92L531.50 764.92Z M543.90 754.62L549.80 764.92L538.00 764.92Z M550.40 754.62L556.30 764.92L544.50 764.92Z M550.40 740.14L556.30 750.44L544.50 750.44Z M556.90 740.14L562.80 750.44L551.00 750.44Z M563.40 740.14L569.30 750.44L557.50 750.44Z M563.40 725.66L569.30 735.96L557.50 735.96Z M563.40 711.18L569.30 721.48L557.50 721.48Z M569.90 711.18L575.80 721.48L564.00 721.48Z M576.40 711.18L582.30 721.48L570.50 721.48Z M582.90 711.18L588.80 721.48L577.00 721.48Z M589.40 711.18L595.30 721.48L583.50 721.48Z M595.90 711.18L601.80 721.48L590.00 721.48Z M602.40 711.18L608.30 721.48L596.50 721.48Z M602.40 696.70L608.30 707.00L596.50 707.00Z M608.90 696.70L614.80 707.00L603.00 707.00Z M615.40 696.70L621.30 707.00L609.50 707.00Z M621.90 696.70L627.80 707.00L616.00 707.00Z M628.40 696.70L634.30 707.00L622.50 707.00Z" fill="none" stroke="#e01515" stroke-width="1.4" stroke-linejoin="miter"/>
<rect x="283.5" y="914.5" width="383" height="180" fill="#fff" stroke="#7a7a7a" stroke-width="1"/>
<path d="M292.6 931.5H339.9" stroke="#26dc26" stroke-width="1.8"/>
<path d="M292.6 991.7H339.9" stroke="#0000dc" stroke-width="1.8"/>
<path d="M292.6 1052.1H339.9" stroke="#e01515" stroke-width="1.8"/>
<circle cx="316.3" cy="931.5" r="4.6" fill="#fff" stroke="#26dc26" stroke-width="1.5"/>
<path d="M310.7 986.1L321.90000000000003 997.3000000000001M321.90000000000003 986.1L310.7 997.3000000000001" stroke="#0000dc" stroke-width="1.8"/>
<path d="M316.30 1044.80L322.20 1055.10L310.40 1055.10Z" fill="#fff" stroke="#e01515" stroke-width="1.3"/>
<text x="346" y="938.9" font-family="Liberation Serif, serif" font-size="23.4" textLength="262.6" lengthAdjust="spacingAndGlyphs">T1 stage cancer vs. normal</text>
<text x="346" y="998.9" font-family="Liberation Serif, serif" font-size="23.4" textLength="299.1" lengthAdjust="spacingAndGlyphs">T2-T4 stage cancer vs. normal</text>
<text x="346" y="1058.6" font-family="Liberation Serif, serif" font-size="23.4" textLength="313.0" lengthAdjust="spacingAndGlyphs">T1 stage vs. T2-T4 stage cancer</text>
<text x="416.5" y="968.1" font-family="Liberation Serif, serif" font-size="23.4" textLength="137.2" lengthAdjust="spacingAndGlyphs">(AUC=0.955)</text>
<text x="416.5" y="1028.1" font-family="Liberation Serif, serif" font-size="23.4" textLength="137.2" lengthAdjust="spacingAndGlyphs">(AUC=0.981)</text>
<text x="416.5" y="1088.6" font-family="Liberation Serif, serif" font-size="23.4" textLength="137.2" lengthAdjust="spacingAndGlyphs">(AUC=0.641)</text>
</svg></body></html>
